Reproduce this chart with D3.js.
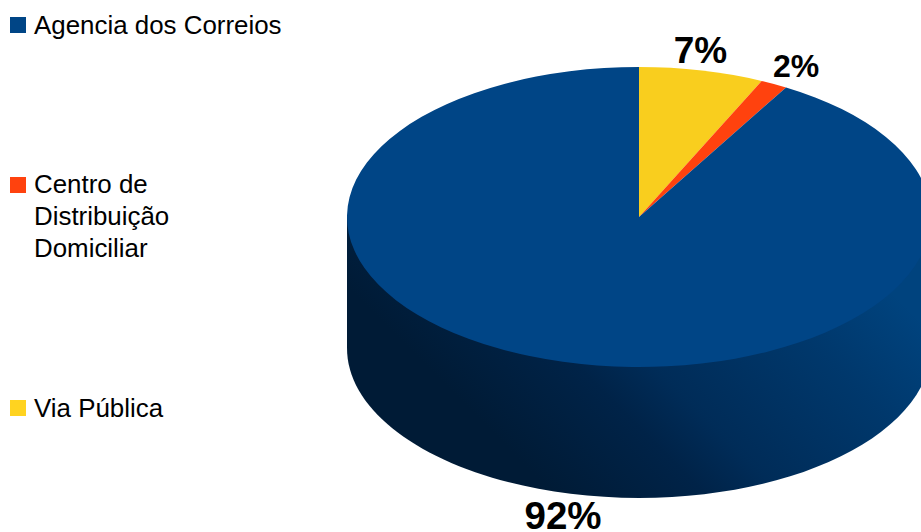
<!DOCTYPE html>
<html>
<head>
<meta charset="utf-8">
<script src="https://cdn.jsdelivr.net/npm/d3@7/dist/d3.min.js"></script>
<style>
  html, body { margin: 0; padding: 0; background: #fff; overflow: hidden; }
  svg { display: block; }
  text { font-family: "Liberation Sans", Arial, sans-serif; fill: #000; }
</style>
</head>
<body>
<svg id="chart" width="921" height="532"></svg>
<script>
// Share of deliveries by collection point, in percent
const categories = ["Via Pública", "Centro de Distribuição Domiciliar", "Agencia dos Correios"];
const shares = [6.9, 1.5, 91.6];
const colors = ["#f9ce1e", "#ff420e", "#004586"];

// Legend wording, broken over lines, listed top to bottom
const legendOrder = ["Agencia dos Correios", "Centro de Distribuição Domiciliar", "Via Pública"];
const legendLines = [["Agencia dos Correios"], ["Centro de", "Distribuição", "Domiciliar"], ["Via Pública"]];
const legendSwatches = ["#004586", "#ff420e", "#ffd320"];

const svg = d3.select("#chart");
const defs = svg.append("defs");

// Disc geometry: a flattened circle with an extruded wall
const cx = 639, cy = 217, rx = 292, ry = 150, depth = 131;

// Wall shading climbs diagonally from near black at lower left to the top colour at upper right
const wall = defs.append("linearGradient")
  .attr("id", "wall")
  .attr("gradientUnits", "userSpaceOnUse")
  .attr("x1", 540).attr("y1", 480)
  .attr("x2", 810).attr("y2", 210);
wall.selectAll("stop")
  .data([[0, "#001b36"], [0.28, "#002348"], [0.42, "#002c58"], [0.76, "#00386c"], [1, "#00437e"]])
  .join("stop")
  .attr("offset", d => d[0])
  .attr("stop-color", d => d[1]);

// Front half of the wall
const wallPath = d3.path();
wallPath.moveTo(cx - rx, cy);
wallPath.lineTo(cx - rx, cy + depth);
wallPath.bezierCurveTo(cx - rx, cy + depth + ry * 0.5523, cx - rx * 0.5523, cy + depth + ry, cx, cy + depth + ry);
wallPath.bezierCurveTo(cx + rx * 0.5523, cy + depth + ry, cx + rx, cy + depth + ry * 0.5523, cx + rx, cy + depth);
wallPath.lineTo(cx + rx, cy);
wallPath.closePath();
svg.append("path").attr("d", wallPath.toString()).attr("fill", "url(#wall)");

// Top face: ordinary pie slices squashed vertically
const pie = d3.pie().sort(null).value(d => d);
const arc = d3.arc().innerRadius(0).outerRadius(rx);
svg.append("g")
  .attr("transform", `translate(${cx},${cy}) scale(1,${ry / rx})`)
  .selectAll("path")
  .data(pie(shares))
  .join("path")
  .attr("d", arc)
  .attr("fill", (d, i) => colors[i]);

// Percentage labels, rounded from the shares
const labelFormat = v => `${Math.round(v)}%`;
const labelSpots = [
  { x: 700.5, y: 63, size: 37 },
  { x: 796, y: 77, size: 32 },
  { x: 563, y: 529, size: 38.5 }
];
svg.append("g")
  .selectAll("text")
  .data(shares)
  .join("text")
  .attr("x", (d, i) => labelSpots[i].x)
  .attr("y", (d, i) => labelSpots[i].y)
  .attr("text-anchor", "middle")
  .attr("font-weight", "bold")
  .attr("font-size", (d, i) => labelSpots[i].size)
  .text(labelFormat);

// Legend
const legend = svg.append("g")
  .selectAll("g")
  .data(legendOrder)
  .join("g");
legend.append("rect")
  .attr("x", 10).attr("width", 16).attr("height", 16)
  .attr("y", (d, i) => [17, 177, 400][i])
  .attr("fill", (d, i) => legendSwatches[i]);
legend.each(function (d, i) {
  const top = [34, 193, 417][i];
  d3.select(this).selectAll("text")
    .data(legendLines[i])
    .join("text")
    .attr("x", 34)
    .attr("y", (t, j) => top + j * 32)
    .attr("font-size", 25.9)
    .text(t => t);
});
</script>
</body>
</html>
